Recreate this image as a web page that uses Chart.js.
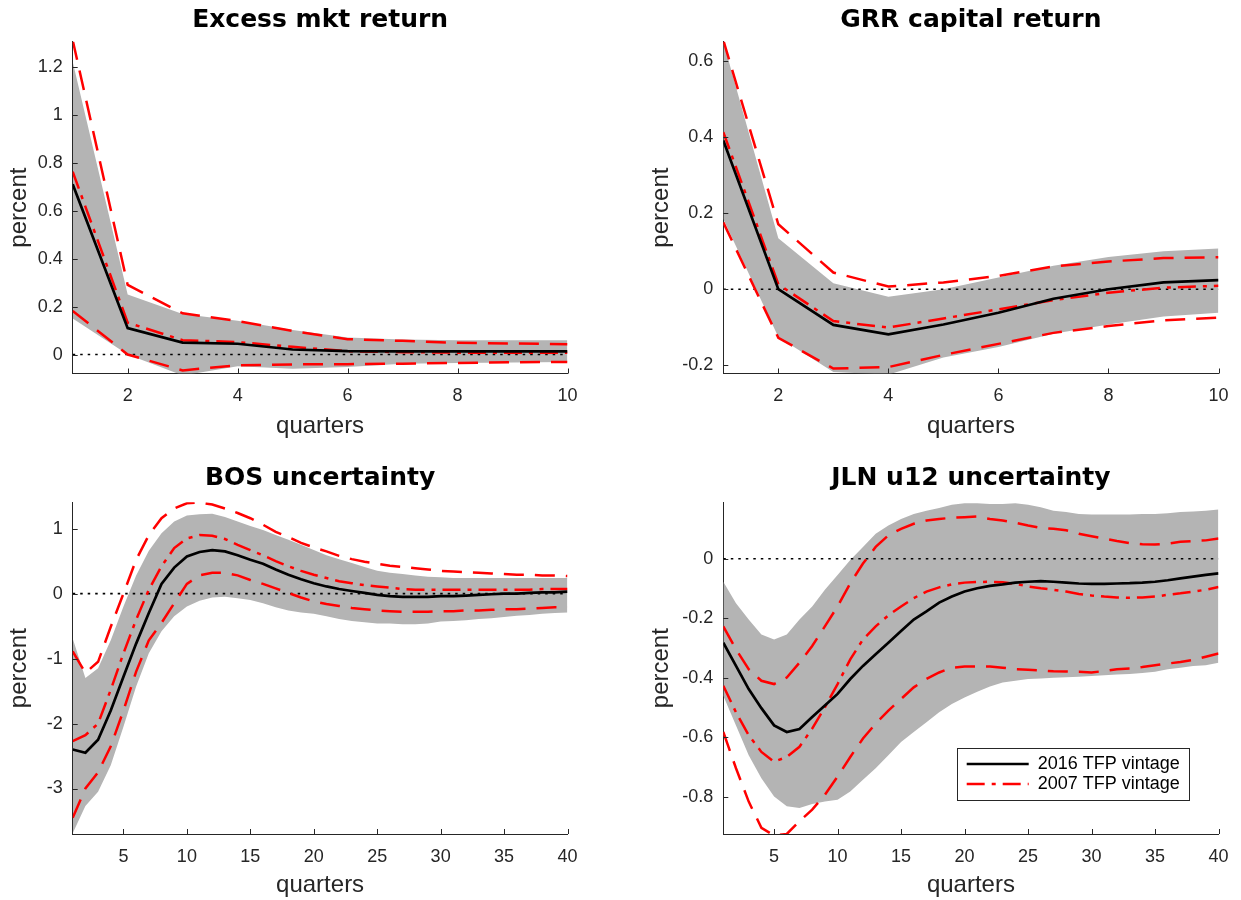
<!DOCTYPE html>
<html>
<head>
<meta charset="utf-8">
<title>Impulse responses: 2016 vs 2007 TFP vintage</title>
<script src="https://cdn.jsdelivr.net/npm/chart.js@4.4.1/dist/chart.umd.min.js"></script>
<style>
  html, body { margin: 0; padding: 0; background: #fff; overflow: hidden; }
  #wrap { position: relative; width: 1241px; height: 900px; }
  #wrap canvas { position: absolute; }
</style>
</head>
<body>
<div id="wrap">
  <canvas id="emrChart" width="620" height="450" style="left:0;top:0"></canvas>
  <canvas id="grrChart" width="621" height="450" style="left:620px;top:0"></canvas>
  <canvas id="bosChart" width="620" height="450" style="left:0;top:450px"></canvas>
  <canvas id="jlnChart" width="621" height="450" style="left:620px;top:450px"></canvas>
</div>
<script>
// Horizons (quarters)
const quartersShort = [1, 2, 3, 4, 5, 6, 7, 8, 9, 10];
const quartersLong = [1, 2, 3, 4, 5, 6, 7, 8, 9, 10, 11, 12, 13, 14, 15, 16, 17, 18, 19, 20,
  21, 22, 23, 24, 25, 26, 27, 28, 29, 30, 31, 32, 33, 34, 35, 36, 37, 38, 39, 40];
const xTicksShort = [2, 4, 6, 8, 10];
const xTicksLong = [5, 10, 15, 20, 25, 30, 35, 40];

// Excess mkt return
const emr2016 = [0.71, 0.11, 0.05, 0.045, 0.021, 0.014, 0.013, 0.013, 0.013, 0.013];
const emr2007 = [0.762, 0.133, 0.06, 0.052, 0.032, 0.014, 0.01, 0.008, 0.007, 0.007];
const emr2007Hi = [1.31, 0.29, 0.172, 0.14, 0.098, 0.064, 0.057, 0.049, 0.046, 0.043];
const emr2007Lo = [0.182, 0.0, -0.066, -0.045, -0.041, -0.04, -0.038, -0.035, -0.032, -0.031];
const emrBandHi = [1.22, 0.25, 0.169, 0.141, 0.102, 0.071, 0.063, 0.06, 0.06, 0.06];
const emrBandLo = [0.15, 0.0, -0.087, -0.049, -0.059, -0.052, -0.038, -0.035, -0.033, -0.031];
const emrYTicks = [0, 0.2, 0.4, 0.6, 0.8, 1, 1.2];
const emrYRange = [-0.079, 1.304];

// GRR capital return
const grr2016 = [0.392, 0.0, -0.094, -0.119, -0.093, -0.062, -0.025, 0.0, 0.018, 0.024];
const grr2007 = [0.414, 0.013, -0.084, -0.101, -0.077, -0.053, -0.029, -0.009, 0.004, 0.009];
const grr2007Hi = [0.656, 0.171, 0.044, 0.007, 0.018, 0.035, 0.06, 0.073, 0.082, 0.084];
const grr2007Lo = [0.176, -0.128, -0.209, -0.205, -0.173, -0.144, -0.115, -0.097, -0.082, -0.075];
const grrBandHi = [0.652, 0.134, 0.016, -0.02, 0.0, 0.031, 0.062, 0.085, 0.1, 0.107];
const grrBandLo = [0.185, -0.126, -0.218, -0.225, -0.18, -0.152, -0.117, -0.093, -0.072, -0.062];
const grrYTicks = [-0.2, 0, 0.2, 0.4, 0.6];
const grrYRange = [-0.222, 0.652];

// BOS uncertainty
const bos2016 = [-2.40, -2.45, -2.25, -1.80, -1.28, -0.77, -0.30, 0.15, 0.40, 0.57,
  0.64, 0.67, 0.65, 0.59, 0.52, 0.46, 0.37, 0.29, 0.22, 0.16,
  0.11, 0.07, 0.04, 0.01, -0.02, -0.04, -0.05, -0.05, -0.05, -0.04,
  -0.04, -0.03, -0.02, -0.01, 0.0, 0.0, 0.01, 0.02, 0.02, 0.03];
const bos2007 = [-2.27, -2.18, -2.00, -1.48, -0.92, -0.40, 0.06, 0.42, 0.70, 0.85,
  0.90, 0.89, 0.84, 0.75, 0.67, 0.59, 0.50, 0.42, 0.35, 0.29,
  0.24, 0.19, 0.16, 0.13, 0.11, 0.09, 0.07, 0.06, 0.06, 0.06,
  0.06, 0.06, 0.06, 0.06, 0.06, 0.06, 0.06, 0.07, 0.07, 0.07];
const bos2007Hi = [-0.89, -1.22, -1.05, -0.51, 0.0, 0.52, 0.90, 1.16, 1.31, 1.39,
  1.40, 1.37, 1.31, 1.24, 1.16, 1.06, 0.95, 0.87, 0.78, 0.71,
  0.65, 0.58, 0.53, 0.49, 0.46, 0.43, 0.41, 0.39, 0.37, 0.35,
  0.34, 0.33, 0.32, 0.31, 0.30, 0.29, 0.29, 0.28, 0.28, 0.27];
const bos2007Lo = [-3.45, -3.00, -2.75, -2.35, -1.80, -1.20, -0.72, -0.45, -0.15, 0.15,
  0.28, 0.32, 0.32, 0.28, 0.21, 0.15, 0.08, 0.01, -0.06, -0.12,
  -0.16, -0.19, -0.22, -0.24, -0.26, -0.27, -0.28, -0.28, -0.28, -0.27,
  -0.27, -0.26, -0.26, -0.25, -0.24, -0.24, -0.23, -0.22, -0.21, -0.21];
const bosBandHi = [-0.69, -1.30, -1.15, -0.72, -0.20, 0.28, 0.66, 0.93, 1.11, 1.20,
  1.22, 1.23, 1.18, 1.11, 1.04, 0.98, 0.90, 0.83, 0.75, 0.67,
  0.59, 0.53, 0.47, 0.41, 0.35, 0.32, 0.30, 0.28, 0.26, 0.25,
  0.24, 0.24, 0.24, 0.24, 0.24, 0.24, 0.24, 0.24, 0.24, 0.24];
const bosBandLo = [-3.69, -3.27, -3.05, -2.64, -2.05, -1.43, -0.92, -0.58, -0.35, -0.20,
  -0.11, -0.06, -0.05, -0.07, -0.10, -0.15, -0.21, -0.26, -0.29, -0.31,
  -0.35, -0.39, -0.42, -0.44, -0.46, -0.46, -0.47, -0.47, -0.46, -0.43,
  -0.42, -0.41, -0.39, -0.38, -0.36, -0.34, -0.33, -0.31, -0.30, -0.29];
const bosYTicks = [-3, -2, -1, 0, 1];
const bosYRange = [-3.70, 1.405];

// JLN u12 uncertainty
const jln2016 = [-0.282, -0.36, -0.438, -0.502, -0.56, -0.582, -0.572, -0.532, -0.493, -0.454,
  -0.404, -0.36, -0.321, -0.282, -0.243, -0.204, -0.177, -0.147, -0.127, -0.11,
  -0.099, -0.091, -0.086, -0.08, -0.077, -0.075, -0.077, -0.08, -0.083, -0.084,
  -0.084, -0.083, -0.082, -0.08, -0.077, -0.072, -0.066, -0.06, -0.054, -0.049];
const jln2007 = [-0.427, -0.516, -0.593, -0.649, -0.682, -0.666, -0.632, -0.571, -0.499, -0.421,
  -0.338, -0.271, -0.227, -0.19, -0.16, -0.132, -0.11, -0.096, -0.086, -0.08,
  -0.078, -0.077, -0.079, -0.084, -0.093, -0.099, -0.104, -0.11, -0.118, -0.123,
  -0.127, -0.13, -0.131, -0.13, -0.127, -0.121, -0.116, -0.11, -0.104, -0.095];
const jln2007Hi = [-0.227, -0.304, -0.371, -0.41, -0.421, -0.399, -0.349, -0.293, -0.227, -0.16,
  -0.082, -0.016, 0.04, 0.079, 0.101, 0.118, 0.129, 0.134, 0.138, 0.14,
  0.142, 0.134, 0.129, 0.121, 0.112, 0.104, 0.101, 0.096, 0.084, 0.076,
  0.068, 0.06, 0.053, 0.049, 0.048, 0.051, 0.057, 0.06, 0.062, 0.068];
const jln2007Lo = [-0.582, -0.704, -0.816, -0.904, -0.93, -0.925, -0.882, -0.843, -0.793, -0.732,
  -0.666, -0.604, -0.554, -0.51, -0.471, -0.432, -0.404, -0.382, -0.366, -0.362,
  -0.362, -0.362, -0.366, -0.371, -0.373, -0.375, -0.378, -0.379, -0.38, -0.382,
  -0.377, -0.371, -0.369, -0.364, -0.358, -0.352, -0.347, -0.34, -0.329, -0.318];
const jlnBandHi = [-0.077, -0.149, -0.204, -0.254, -0.271, -0.254, -0.204, -0.16, -0.104, -0.054,
  -0.004, 0.04, 0.084, 0.112, 0.134, 0.151, 0.162, 0.171, 0.182, 0.187,
  0.187, 0.184, 0.184, 0.187, 0.182, 0.173, 0.162, 0.157, 0.151, 0.149,
  0.149, 0.149, 0.149, 0.151, 0.151, 0.153, 0.157, 0.159, 0.162, 0.166];
const jlnBandLo = [-0.46, -0.56, -0.66, -0.738, -0.799, -0.832, -0.838, -0.824, -0.816, -0.81,
  -0.782, -0.743, -0.704, -0.66, -0.616, -0.582, -0.549, -0.516, -0.488, -0.466,
  -0.447, -0.429, -0.416, -0.41, -0.404, -0.402, -0.4, -0.398, -0.396, -0.394,
  -0.391, -0.389, -0.387, -0.384, -0.38, -0.371, -0.366, -0.36, -0.358, -0.349];
const jlnYTicks = [-0.8, -0.6, -0.4, -0.2, 0];
const jlnYRange = [-0.925, 0.19];

const AXIS_FONT = 'Liberation Sans, Arial, sans-serif';
const AXIS_COLOR = '#262626';
const BAND_GRAY = '#b4b4b4';
const LEGEND_SIZE = 18;
const LEGEND_LINE = 62;

function pts(xs, ys) {
  return xs.map((x, i) => ({ x: x, y: ys[i] }));
}

// MATLAB style tick marks pointing into the axes
const inwardTicks = {
  id: 'inwardTicks',
  afterDatasetsDraw(chart) {
    const { ctx, chartArea, scales } = chart;
    ctx.save();
    ctx.strokeStyle = AXIS_COLOR;
    ctx.lineWidth = 1;
    ctx.beginPath();
    scales.x.ticks.forEach(t => {
      const px = Math.round(scales.x.getPixelForValue(t.value)) + 0.5;
      ctx.moveTo(px, chartArea.bottom);
      ctx.lineTo(px, chartArea.bottom - 5);
    });
    scales.y.ticks.forEach(t => {
      const py = Math.round(scales.y.getPixelForValue(t.value)) + 0.5;
      ctx.moveTo(chartArea.left, py);
      ctx.lineTo(chartArea.left + 5, py);
    });
    ctx.stroke();
    ctx.restore();
  }
};

// put the legend at a fixed spot and draw a box round it
const legendFrame = {
  id: 'legendFrame',
  afterLayout(chart, args, opts) {
    const lg = chart.legend;
    if (!lg || !opts.at) return;
    lg.left = opts.at[0];
    lg.top = opts.at[1];
    lg.right = lg.left + lg.width;
    lg.bottom = lg.top + lg.height;
  },
  afterDraw(chart, args, opts) {
    const lg = chart.legend;
    if (!lg || !opts.at) return;
    const ctx = chart.ctx;
    ctx.save();
    ctx.font = LEGEND_SIZE + 'px ' + AXIS_FONT;
    let maxW = 0;
    lg.legendItems.forEach(it => { maxW = Math.max(maxW, ctx.measureText(it.text).width); });
    const x0 = lg.left - 7.4;
    const y0 = lg.top - 4.7;
    const x1 = lg.left + 2 + LEGEND_LINE + LEGEND_SIZE / 2 + maxW + 10;
    ctx.strokeStyle = AXIS_COLOR;
    ctx.lineWidth = 1;
    ctx.strokeRect(Math.round(x0) + 0.5, Math.round(y0) + 0.5, Math.round(x1 - x0), 52);
    ctx.restore();
  }
};

function irfPanel(canvasId, cfg) {
  const lineBase = { pointRadius: 0, tension: 0, fill: false };
  const datasets = [
    Object.assign({ label: '2016 TFP vintage', data: pts(cfg.x, cfg.v2016), borderColor: '#000000', borderWidth: 2.7 }, lineBase),
    Object.assign({ label: '2007 TFP vintage', data: pts(cfg.x, cfg.v2007), borderColor: '#ff0000', borderWidth: 2.5, borderDash: [18, 7, 4, 7] }, lineBase),
    Object.assign({ label: '2007 upper', data: pts(cfg.x, cfg.hi2007), borderColor: '#ff0000', borderWidth: 2.5, borderDash: [20, 11] }, lineBase),
    Object.assign({ label: '2007 lower', data: pts(cfg.x, cfg.lo2007), borderColor: '#ff0000', borderWidth: 2.5, borderDash: [20, 11] }, lineBase),
    Object.assign({ label: 'zero', data: pts(cfg.x, cfg.x.map(() => 0)), borderColor: '#000000', borderWidth: 1.6, borderDash: [2.5, 5] }, lineBase),
    { label: '2016 band upper', data: pts(cfg.x, cfg.bandHi), pointRadius: 0, tension: 0, borderWidth: 0, borderColor: BAND_GRAY, backgroundColor: BAND_GRAY, fill: '+1' },
    Object.assign({ label: '2016 band lower', data: pts(cfg.x, cfg.bandLo), borderWidth: 0, borderColor: BAND_GRAY }, lineBase)
  ];

  const legendOpts = cfg.legendAt ? {
    display: true,
    position: 'chartArea',
    align: 'start',
    labels: {
      usePointStyle: true,
      pointStyleWidth: LEGEND_LINE,
      padding: 2,
      color: '#000',
      font: { family: AXIS_FONT, size: LEGEND_SIZE },
      generateLabels: (chart) => chart.data.datasets.slice(0, 2).map((ds, i) => ({
        text: ds.label,
        datasetIndex: i,
        strokeStyle: ds.borderColor,
        fillStyle: ds.borderColor,
        lineWidth: ds.borderWidth,
        lineDash: ds.borderDash || [],
        pointStyle: 'line',
        fontColor: '#000',
        hidden: false
      }))
    }
  } : { display: false };

  return new Chart(document.getElementById(canvasId), {
    type: 'line',
    data: { datasets: datasets },
    plugins: [inwardTicks, legendFrame],
    options: {
      responsive: false,
      animation: false,
      events: [],
      layout: { padding: { left: 0, top: 0, right: cfg.padRight, bottom: 0 } },
      plugins: {
        tooltip: { enabled: false },
        legend: legendOpts,
        legendFrame: { at: cfg.legendAt || null },
        title: {
          display: true,
          text: cfg.title,
          fullSize: false,
          color: '#000',
          font: { family: 'DejaVu Sans', size: 25, weight: 'bold', lineHeight: 1.2 },
          padding: { top: cfg.titlePad[0], bottom: cfg.titlePad[1] }
        }
      },
      scales: {
        x: {
          type: 'linear',
          min: cfg.x[0],
          max: cfg.x[cfg.x.length - 1],
          grid: { display: false, drawTicks: false },
          border: { display: true, color: AXIS_COLOR, width: 1 },
          ticks: {
            padding: 12,
            color: AXIS_COLOR,
            font: { family: AXIS_FONT, size: 18 },
            maxRotation: 0,
            callback: (v) => String(v)
          },
          afterBuildTicks: (s) => { s.ticks = cfg.xTicks.map(v => ({ value: v })); },
          afterFit: (s) => { s.height = cfg.xAxisH; },
          title: {
            display: true,
            text: 'quarters',
            color: AXIS_COLOR,
            font: { family: AXIS_FONT, size: 24, lineHeight: 1.2 },
            padding: { top: 0, bottom: cfg.xTitlePad }
          }
        },
        y: {
          type: 'linear',
          min: cfg.yRange[0],
          max: cfg.yRange[1],
          grid: { display: false, drawTicks: false },
          border: { display: true, color: AXIS_COLOR, width: 1 },
          ticks: {
            padding: 10,
            color: AXIS_COLOR,
            font: { family: AXIS_FONT, size: 18 },
            callback: (v) => String(v)
          },
          afterBuildTicks: (s) => { s.ticks = cfg.yTicks.map(v => ({ value: v })); },
          afterFit: (s) => { s.width = cfg.yAxisW; },
          title: {
            display: true,
            text: 'percent',
            color: AXIS_COLOR,
            font: { family: AXIS_FONT, size: 24, lineHeight: 1.2 },
            padding: { top: cfg.yTitlePad, bottom: 0 }
          }
        }
      }
    }
  });
}

irfPanel('emrChart', {
  title: 'Excess mkt return', x: quartersShort, xTicks: xTicksShort,
  v2016: emr2016, v2007: emr2007, hi2007: emr2007Hi, lo2007: emr2007Lo,
  bandHi: emrBandHi, bandLo: emrBandLo, yTicks: emrYTicks, yRange: emrYRange,
  padRight: 52.5, yAxisW: 72.7, xAxisH: 76.5, titlePad: [5.3, 6.4], xTitlePad: 9.6, yTitlePad: 4.6
});
irfPanel('grrChart', {
  title: 'GRR capital return', x: quartersShort, xTicks: xTicksShort,
  v2016: grr2016, v2007: grr2007, hi2007: grr2007Hi, lo2007: grr2007Lo,
  bandHi: grrBandHi, bandLo: grrBandLo, yTicks: grrYTicks, yRange: grrYRange,
  padRight: 22.5, yAxisW: 103.3, xAxisH: 76.5, titlePad: [5.3, 6.4], xTitlePad: 9.6, yTitlePad: 26.6
});
irfPanel('bosChart', {
  title: 'BOS uncertainty', x: quartersLong, xTicks: xTicksLong,
  v2016: bos2016, v2007: bos2007, hi2007: bos2007Hi, lo2007: bos2007Lo,
  bandHi: bosBandHi, bandLo: bosBandLo, yTicks: bosYTicks, yRange: bosYRange,
  padRight: 52.5, yAxisW: 72.7, xAxisH: 66, titlePad: [13.8, 8.5], xTitlePad: 0, yTitlePad: 4.6
});
irfPanel('jlnChart', {
  title: 'JLN u12 uncertainty', x: quartersLong, xTicks: xTicksLong,
  v2016: jln2016, v2007: jln2007, hi2007: jln2007Hi, lo2007: jln2007Lo,
  bandHi: jlnBandHi, bandLo: jlnBandLo, yTicks: jlnYTicks, yRange: jlnYRange,
  padRight: 22.5, yAxisW: 103.3, xAxisH: 66, titlePad: [13.8, 8.5], xTitlePad: 0, yTitlePad: 26.6,
  legendAt: [344.7, 303]
});
</script>
</body>
</html>
